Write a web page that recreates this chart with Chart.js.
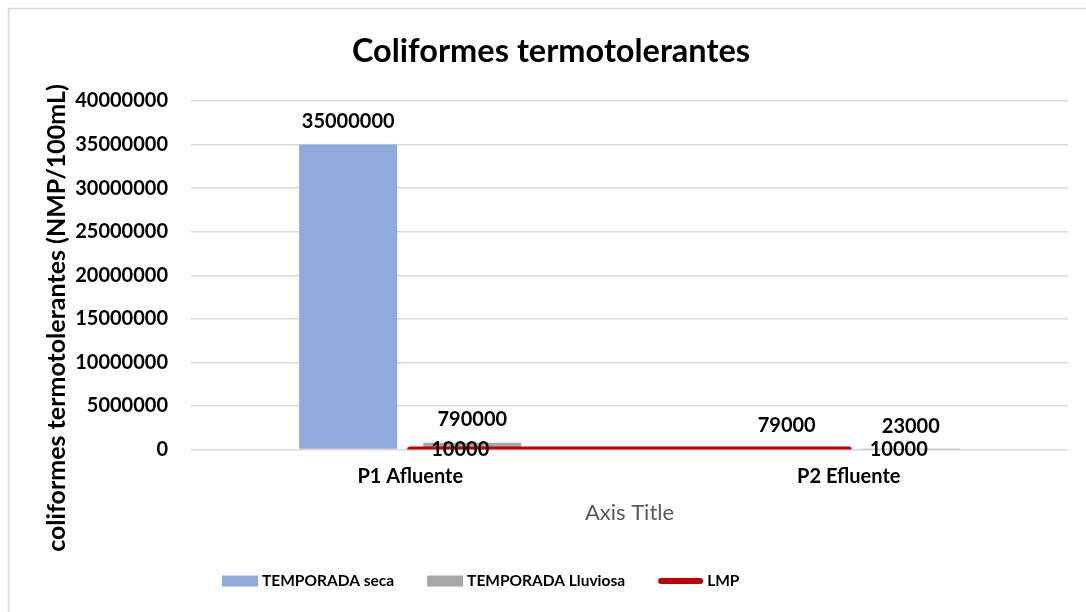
<!DOCTYPE html>
<html>
<head>
<meta charset="utf-8">
<script src="https://cdn.jsdelivr.net/npm/chart.js@4/dist/chart.umd.min.js"></script>
<style>
  body { margin: 0; background: #fff; }
  #caja { width: 1086px; height: 612px; position: relative; }
</style>
</head>
<body>
<div id="caja"><canvas id="graficoColiformes"></canvas></div>
<script>
// datos
const categorias = ['P1 Afluente', 'P2 Efluente'];
const temporadaSeca = [35000000, 79000];
const temporadaLluviosa = [790000, 23000];
const lmp = [10000, 10000];
const ticksY = [0, 5000000, 10000000, 15000000, 20000000, 25000000, 30000000, 35000000, 40000000];

const FUENTE = 'Lato';
Chart.defaults.font.family = FUENTE;
Chart.defaults.color = '#000';

// marco gris y titulos
const marco = {
    id: 'marco',
    beforeDraw(chart) {
        const c = chart.ctx;
        c.save();
        c.fillStyle = '#fff';
        c.fillRect(0, 0, chart.width, chart.height);
        c.strokeStyle = '#d9d9d9';
        c.lineWidth = 1.5;
        c.strokeRect(8.5, 8.5, 2000, 2000);
        c.restore();
    },
    afterDraw(chart) {
        const c = chart.ctx;
        c.save();
        c.fillStyle = '#000';
        c.textAlign = 'center';
        c.textBaseline = 'middle';
        c.font = 'bold 32.5px ' + FUENTE;
        c.fillText('Coliformes termotolerantes', 551, 52);
        // titulo del eje y
        c.translate(57, 318);
        c.rotate(-Math.PI / 2);
        c.font = 'bold 25px ' + FUENTE;
        c.fillText('coliformes termotolerantes (NMP/100mL)', 0, 0);
        c.restore();
    }
};

// etiquetas de datos
const etiquetas = {
    id: 'etiquetas',
    afterDatasetsDraw(chart) {
        const c = chart.ctx;
        c.save();
        c.fillStyle = '#000';
        c.font = 'bold 20px ' + FUENTE;
        c.textBaseline = 'middle';
        chart.data.datasets.forEach((ds, i) => {
            const meta = chart.getDatasetMeta(i);
            meta.data.forEach((el, j) => {
                const texto = String(ds.data[j]);
                if (ds.type === 'line') {
                    c.textAlign = 'left';
                    c.fillText(texto, el.x + 21, el.y);
                } else {
                    c.textAlign = 'center';
                    c.fillText(texto, el.x, el.y - 23);
                }
            });
        });
        c.restore();
    }
};

// leyenda abajo
const leyenda = {
    id: 'leyenda',
    afterDraw(chart) {
        const c = chart.ctx;
        let x = 222;
        const y = 581;
        c.save();
        c.font = 'bold 15.5px ' + FUENTE;
        c.textBaseline = 'middle';
        c.textAlign = 'left';
        chart.data.datasets.forEach(ds => {
            let ancho = 36;
            if (ds.type === 'line') {
                ancho = 45;
                c.strokeStyle = ds.borderColor;
                c.lineWidth = 6;
                c.lineCap = 'round';
                c.beginPath();
                c.moveTo(x + 3, y);
                c.lineTo(x + ancho - 3, y);
                c.stroke();
            } else {
                c.fillStyle = ds.backgroundColor;
                c.fillRect(x, y - 5.5, ancho, 11);
            }
            c.fillStyle = '#000';
            c.fillText(ds.label, x + ancho + 4, y);
            x += ancho + 4 + c.measureText(ds.label).width + 33;
        });
        c.restore();
    }
};

const ctx = document.getElementById('graficoColiformes').getContext('2d');
const grafico = new Chart(ctx, {
    type: 'bar',
    data: {
        labels: categorias,
        datasets: [{
            label: 'TEMPORADA seca',
            data: temporadaSeca,
            backgroundColor: '#8faadc',
            categoryPercentage: 0.566,
            barPercentage: 0.79,
            order: 2
        }, {
            label: 'TEMPORADA Lluviosa',
            data: temporadaLluviosa,
            backgroundColor: '#a9a7a6',
            categoryPercentage: 0.566,
            barPercentage: 0.79,
            order: 2
        }, {
            type: 'line',
            label: 'LMP',
            data: lmp,
            borderColor: '#c00000',
            backgroundColor: '#c00000',
            borderWidth: 6,
            borderCapStyle: 'round',
            pointRadius: 0,
            fill: false,
            order: 1
        }]
    },
    options: {
        responsive: true,
        maintainAspectRatio: false,
        animation: false,
        layout: { padding: { top: 101, right: 18, bottom: 82, left: 0 } },
        plugins: {
            legend: { display: false },
            title: { display: false },
            tooltip: { enabled: false }
        },
        scales: {
            x: {
                grid: { display: false, drawTicks: false },
                border: { display: false },
                ticks: { font: { size: 20, weight: 'bold' }, padding: 15, color: '#000' },
                title: {
                    display: true,
                    text: 'Axis Title',
                    color: '#595959',
                    font: { size: 22, weight: 'normal' },
                    padding: { top: -4, bottom: 4 }
                }
            },
            y: {
                min: 0,
                max: 40000000,
                afterBuildTicks(scale) {
                    scale.ticks = ticksY.map(v => ({ value: v }));
                },
                afterFit(scale) { scale.width = 191; },
                grid: { color: '#d9d9d9', lineWidth: 1.5, drawTicks: false },
                border: { display: false },
                ticks: {
                    font: { size: 20, weight: 'bold' },
                    padding: 23,
                    color: '#000',
                    callback: v => String(v)
                }
            }
        }
    },
    plugins: [marco, etiquetas, leyenda]
});
</script>
</body>
</html>
